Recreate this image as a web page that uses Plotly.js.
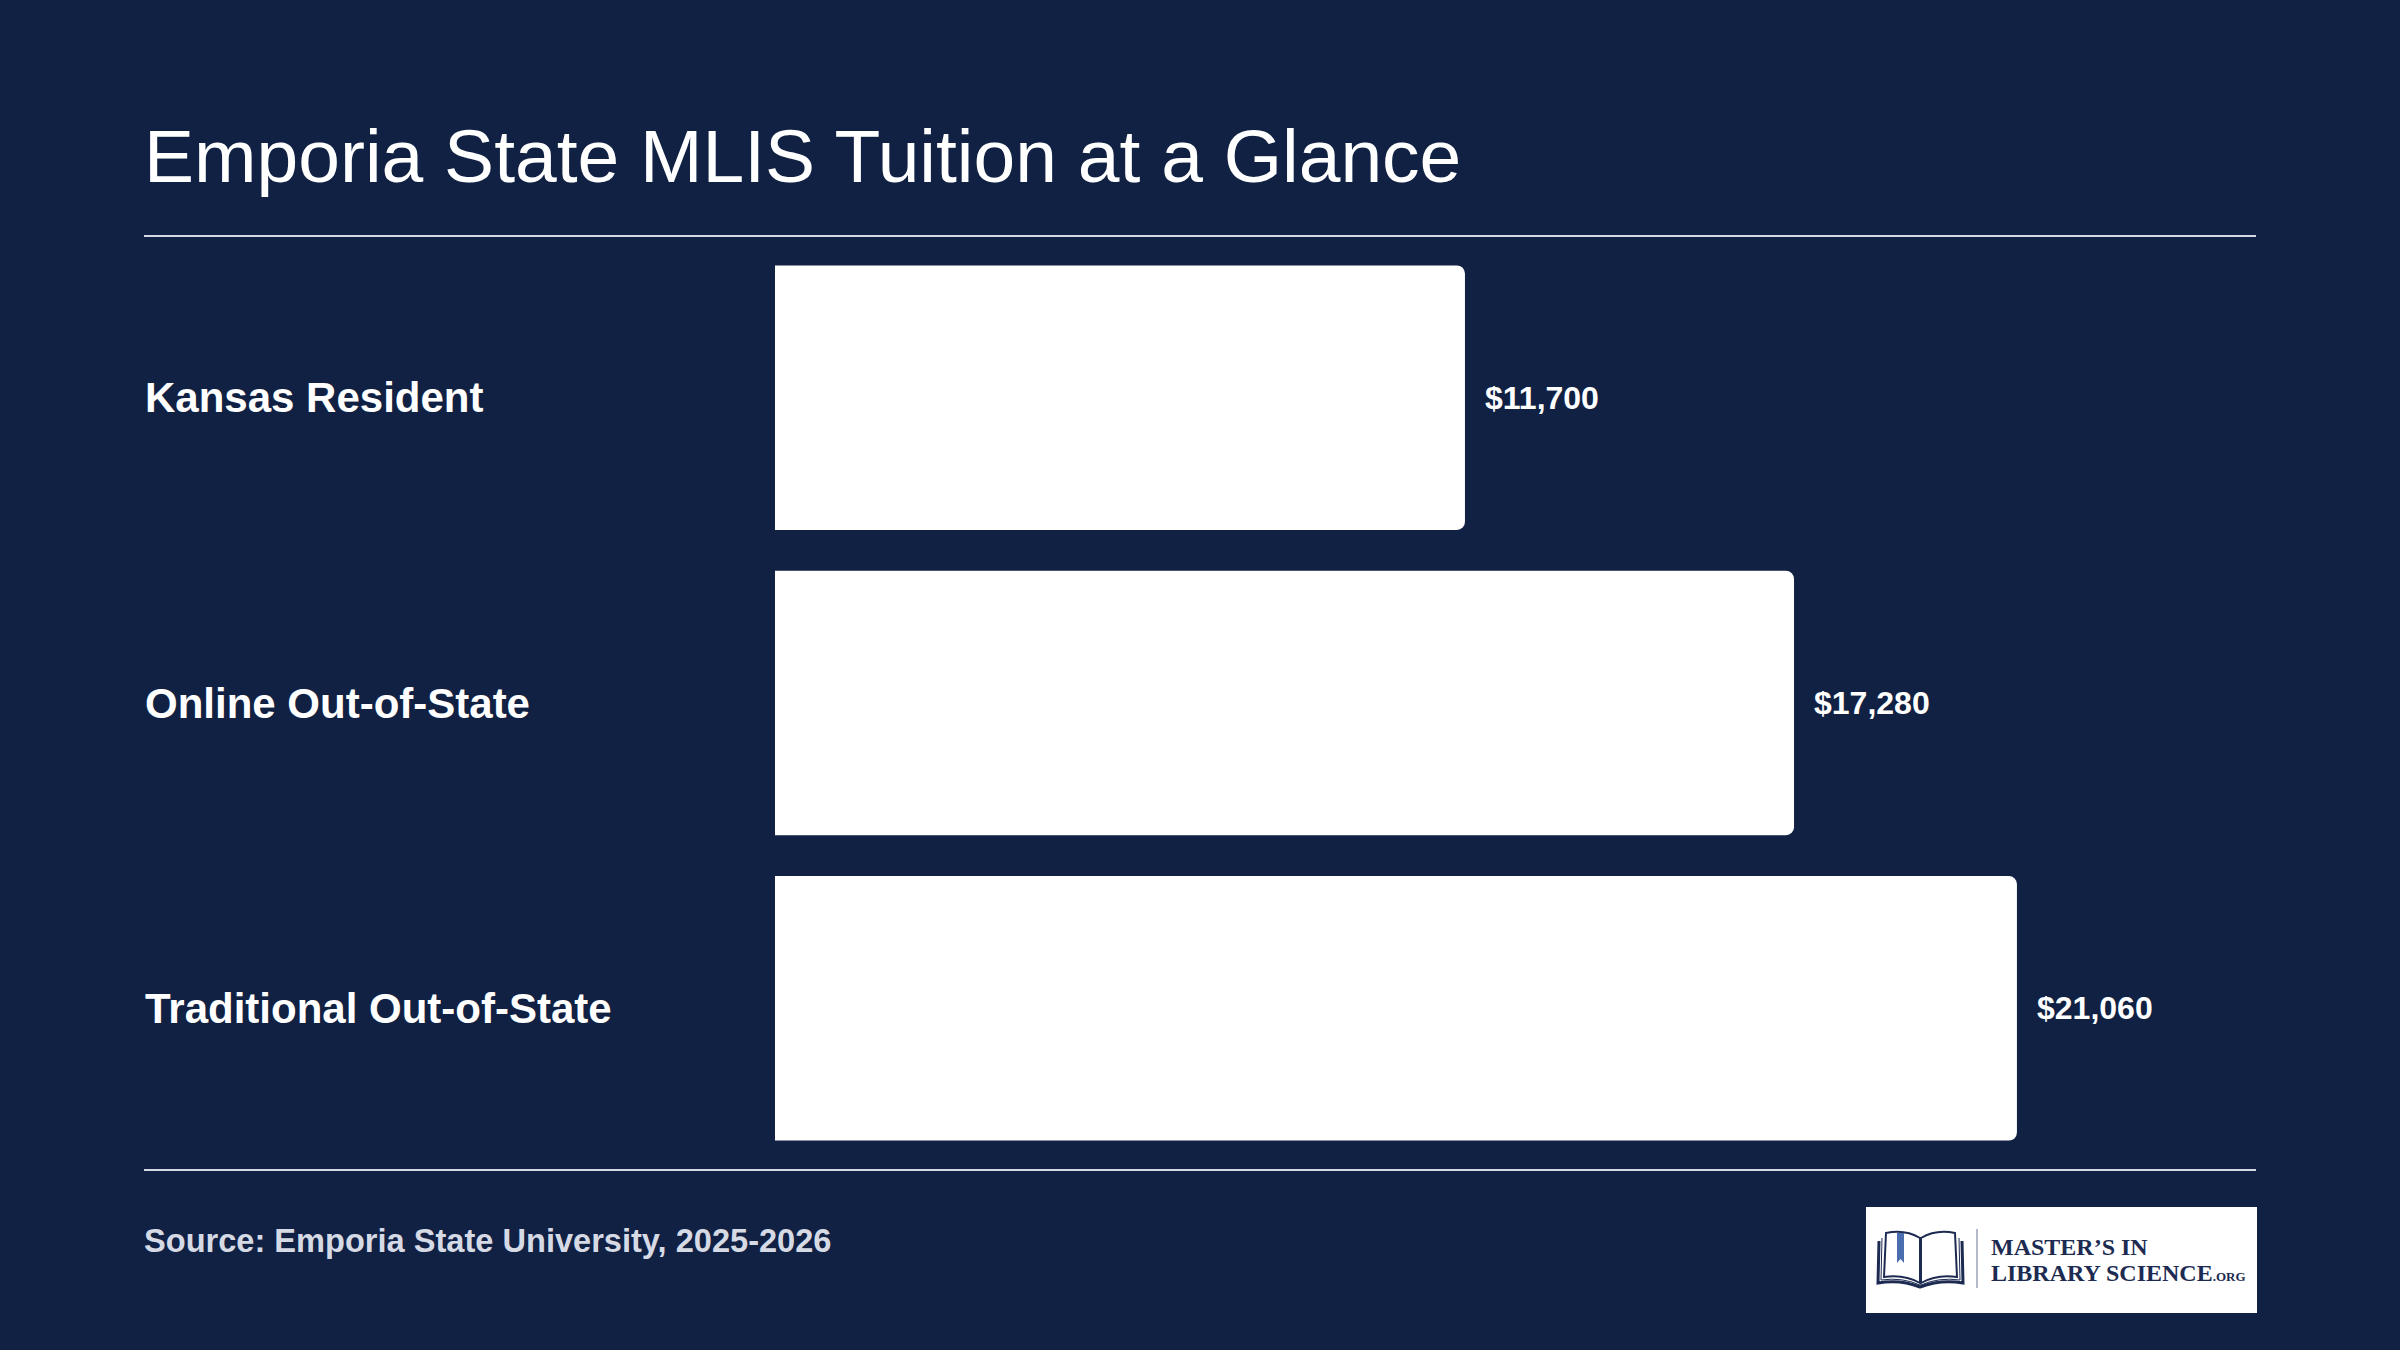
<!DOCTYPE html>
<html>
<head>
<meta charset="utf-8">
<script src="https://cdn.plot.ly/plotly-3.0.1.min.js"></script>
<style>
  html, body { margin: 0; padding: 0; background: #112143; }
  #chart { width: 2400px; height: 1350px; }
</style>
</head>
<body>
<div id="chart"></div>
<script>
// ---- Data ----
const categories = ["Kansas Resident", "Online Out-of-State", "Traditional Out-of-State"];
const tuition = [11700, 17280, 21060];
const titleText = "Emporia State MLIS Tuition at a Glance";
const sourceText = "Source: Emporia State University, 2025-2026";
const logoLine1 = "MASTER’S IN";
const logoLine2 = "LIBRARY SCIENCE";
const logoSuffix = ".ORG";

// ---- Layout helpers (pixel -> paper) ----
const L = 775, R = 2256, T = 245, B = 1161;
const W = R - L, H = B - T;
const px = x => (x - L) / W;
const py = y => (B - y) / H;

const BG = "#112143";
const LINE = "#d3d9e4";
const NAVY = "#1d2b52";
const FONT = "Liberation Sans, Arial, Helvetica, sans-serif";
const SERIF = "Liberation Serif, DejaVu Serif, serif";

const fmt = v => "$" + v.toLocaleString("en-US");

const trace = {
  type: "bar",
  orientation: "h",
  y: categories,
  x: tuition,
  marker: { color: "#ffffff", cornerradius: 8, line: { width: 0 } },
  hoverinfo: "skip"
};

const annotations = [];
categories.forEach((c, i) => {
  annotations.push({
    xref: "paper", yref: "y", x: px(143), y: c,
    xanchor: "left", yanchor: "middle", showarrow: false,
    text: c, font: { family: FONT, size: 42, color: "#ffffff", weight: "bold" }
  });
  annotations.push({
    xref: "x", yref: "y", x: tuition[i], y: c, xshift: 18,
    xanchor: "left", yanchor: "middle", showarrow: false,
    text: fmt(tuition[i]), font: { family: FONT, size: 32, color: "#ffffff", weight: "bold" }
  });
});
annotations.push({
  xref: "paper", yref: "paper", x: px(142), y: py(1240),
  xanchor: "left", yanchor: "middle", showarrow: false,
  text: sourceText, font: { family: FONT, size: 32.6, color: "#d5dae5", weight: "bold" }
});
annotations.push({
  xref: "paper", yref: "paper", x: px(1989), y: py(1247),
  xanchor: "left", yanchor: "middle", showarrow: false,
  text: logoLine1, font: { family: SERIF, size: 24, color: NAVY, weight: "bold" }
});
annotations.push({
  xref: "paper", yref: "paper", x: px(1989), y: py(1273),
  xanchor: "left", yanchor: "middle", showarrow: false,
  text: logoLine2 + "<span style='font-size:13px'>" + logoSuffix + "</span>",
  font: { family: SERIF, size: 24, color: NAVY, weight: "bold" }
});

const shapes = [
  // rules
  { type: "line", xref: "paper", yref: "paper", x0: px(144), x1: px(2256), y0: py(236), y1: py(236), line: { color: LINE, width: 2 } },
  { type: "line", xref: "paper", yref: "paper", x0: px(144), x1: px(2256), y0: py(1170), y1: py(1170), line: { color: LINE, width: 2 } },
  // logo box
  { type: "rect", xref: "paper", yref: "paper", x0: px(1866), x1: px(2257), y0: py(1207), y1: py(1313), fillcolor: "#ffffff", line: { width: 0 }, layer: "below" },
  // divider
  { type: "line", xref: "paper", yref: "paper", x0: px(1977), x1: px(1977), y0: py(1229), y1: py(1288), line: { color: "#9aa3b8", width: 1.5 }, layer: "above" }
];

// book icon paths (in pixel space converted to paper)
function pathFrom(points, close) {
  let d = "";
  points.forEach((p, i) => {
    if (p[0] === "Q") {
      d += " Q" + px(p[1]) + "," + py(p[2]) + " " + px(p[3]) + "," + py(p[4]);
    } else {
      d += (i === 0 ? "M" : " L") + px(p[0]) + "," + py(p[1]);
    }
  });
  return d + (close ? " Z" : "");
}
// cover (outer)
shapes.push({ type: "path", xref: "paper", yref: "paper", layer: "above",
  path: pathFrom([[1879, 1241], [1878, 1283], ["Q", 1900, 1279, 1920, 1287], ["Q", 1941, 1279, 1963, 1283], [1962, 1241]], false),
  line: { color: NAVY, width: 3 }, fillcolor: "rgba(0,0,0,0)" });
// left page
shapes.push({ type: "path", xref: "paper", yref: "paper", layer: "above",
  path: pathFrom([[1920, 1283], [1920, 1238], ["Q", 1905, 1229, 1886, 1233], [1884, 1277], ["Q", 1904, 1274, 1920, 1283]], true),
  line: { color: NAVY, width: 2 }, fillcolor: "#ffffff" });
// right page
shapes.push({ type: "path", xref: "paper", yref: "paper", layer: "above",
  path: pathFrom([[1921, 1283], [1921, 1238], ["Q", 1936, 1229, 1955, 1233], [1957, 1277], ["Q", 1937, 1274, 1921, 1283]], true),
  line: { color: NAVY, width: 2 }, fillcolor: "#ffffff" });
// inner page lines
shapes.push({ type: "path", xref: "paper", yref: "paper", layer: "above",
  path: pathFrom([[1882, 1238], [1881, 1280], ["Q", 1902, 1277, 1920, 1285]], false),
  line: { color: NAVY, width: 1 }, fillcolor: "rgba(0,0,0,0)" });
shapes.push({ type: "path", xref: "paper", yref: "paper", layer: "above",
  path: pathFrom([[1959, 1238], [1960, 1280], ["Q", 1939, 1277, 1921, 1285]], false),
  line: { color: NAVY, width: 1 }, fillcolor: "rgba(0,0,0,0)" });
// bookmark
shapes.push({ type: "path", xref: "paper", yref: "paper", layer: "above",
  path: pathFrom([[1897, 1233], [1904, 1233], [1904, 1263], [1900.5, 1259], [1897, 1263]], true),
  line: { color: "#4a6db0", width: 0 }, fillcolor: "#4a6db0" });

const layout = {
  width: 2400,
  height: 1350,
  paper_bgcolor: BG,
  plot_bgcolor: BG,
  margin: { l: L, r: 2400 - R, t: T, b: 1350 - B, pad: 0 },
  title: {
    text: titleText,
    font: { family: FONT, size: 75, color: "#ffffff" },
    xref: "container", yref: "container",
    x: 144 / 2400, xanchor: "left",
    y: 1 - 156 / 1350, yanchor: "middle"
  },
  showlegend: false,
  bargap: 0.134,
  xaxis: { range: [0, 25114], visible: false, fixedrange: true },
  yaxis: { autorange: "reversed", showticklabels: false, showgrid: false, zeroline: false, showline: false, ticks: "", fixedrange: true },
  shapes: shapes,
  annotations: annotations
};

Plotly.newPlot("chart", [trace], layout, { staticPlot: true, displayModeBar: false });
</script>
</body>
</html>
